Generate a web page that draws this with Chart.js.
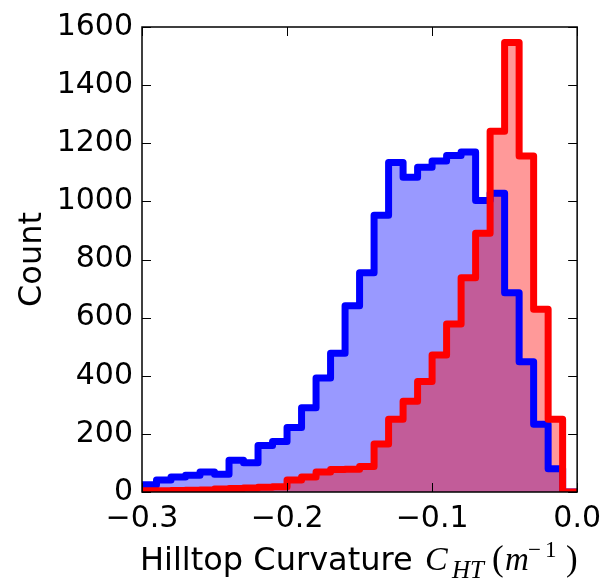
<!DOCTYPE html>
<html>
<head>
<meta charset="utf-8">
<script src="https://cdn.jsdelivr.net/npm/chart.js@4/dist/chart.umd.min.js"></script>
<style>
html,body{margin:0;padding:0;background:#ffffff;}
#wrap{width:610px;height:584px;}
</style>
</head>
<body>
<div id="wrap"><canvas id="c" width="610" height="584"></canvas></div>
<script>
// ---- data ----
const binEdges = [-0.30,-0.29,-0.28,-0.27,-0.26,-0.25,-0.24,-0.23,-0.22,-0.21,
                  -0.20,-0.19,-0.18,-0.17,-0.16,-0.15,-0.14,-0.13,-0.12,-0.11,
                  -0.10,-0.09,-0.08,-0.07,-0.06,-0.05,-0.04,-0.03,-0.02,-0.01,0.00];
const blueCounts = [25,41,52,58,69,61,109,101,160,174,
                    222,290,392,477,641,754,952,1134,1083,1117,
                    1139,1158,1170,1003,1028,686,448,233,80,0];
const redCounts  = [4,4,5,6,7,10,12,14,16,18,
                    41,52,69,77,78,88,165,250,312,380,
                    471,578,737,890,1241,1547,1156,629,250,0];
const xTickValues = [-0.3,-0.2,-0.1,0.0];
const xTickLabels = ['\u22120.3','\u22120.2','\u22120.1','0.0'];
const yTickValues = [0,200,400,600,800,1000,1200,1400,1600];
const yTickLabels = ['0','200','400','600','800','1000','1200','1400','1600'];
const xTitleText = 'Hilltop Curvature';
const yTitleText = 'Count';

function stepPoints(counts){
  const pts = [{x: binEdges[0], y: 0}];
  counts.forEach((c,i)=>pts.push({x: binEdges[i], y: c}));
  pts.push({x: binEdges[binEdges.length-1], y: 0});
  return pts;
}

const framePlugin = {
  id: 'frame',
  afterDraw(chart){
    const {ctx, chartArea: a, scales: {x, y}} = chart;
    ctx.save();
    // inward ticks on all four sides
    ctx.strokeStyle = '#000';
    ctx.lineWidth = 1;
    const L = 9;
    xTickValues.forEach(v=>{
      const px = Math.round(x.getPixelForValue(v)) + 0.5;
      ctx.beginPath();
      ctx.moveTo(px, a.bottom); ctx.lineTo(px, a.bottom - L);
      ctx.moveTo(px, a.top); ctx.lineTo(px, a.top + L);
      ctx.stroke();
    });
    yTickValues.forEach(v=>{
      const py = Math.round(y.getPixelForValue(v)) + 0.5;
      ctx.beginPath();
      ctx.moveTo(a.left, py); ctx.lineTo(a.left + L, py);
      ctx.moveTo(a.right, py); ctx.lineTo(a.right - L, py);
      ctx.stroke();
    });
    // frame
    ctx.lineWidth = 1.5;
    ctx.strokeRect(a.left, a.top, a.right - a.left, a.bottom - a.top);

    // y title
    ctx.fillStyle = '#000';
    ctx.font = '32px "DejaVu Sans"';
    ctx.textAlign = 'center';
    ctx.textBaseline = 'alphabetic';
    ctx.save();
    ctx.translate(41, (a.top + a.bottom) / 2);
    ctx.rotate(-Math.PI / 2);
    ctx.fillText(yTitleText, 0, 0);
    ctx.restore();

    // x title with math part
    ctx.textAlign = 'left';
    const base = 570;
    ctx.font = '32px "DejaVu Sans"';
    ctx.fillText(xTitleText, 140, base);
    ctx.font = 'italic 34px "Liberation Serif"';
    ctx.fillText('C', 425, base);
    ctx.font = 'italic 25px "Liberation Serif"';
    ctx.fillText('HT', 452, base + 8);
    ctx.font = '35px "Liberation Serif"';
    ctx.fillText('(', 492, base);
    ctx.font = 'italic 33px "Liberation Serif"';
    ctx.fillText('m', 505, base);
    ctx.font = '23px "Liberation Serif"';
    ctx.fillText('\u2212', 528, base - 13);
    ctx.fillText('1', 545, base - 13);
    ctx.font = '35px "Liberation Serif"';
    ctx.fillText(')', 566, base);
    ctx.restore();
  }
};

new Chart(document.getElementById('c'), {
  type: 'line',
  data: {
    datasets: [
      {
        label: 'red',
        data: stepPoints(redCounts),
        stepped: 'before',
        borderColor: '#ff0000',
        backgroundColor: 'rgba(255,0,0,0.4)',
        fill: 'origin',
        borderWidth: 7,
        borderJoinStyle: 'round',
        pointRadius: 0,
        order: 0,
        clip: 0
      },
      {
        label: 'blue',
        data: stepPoints(blueCounts),
        stepped: 'before',
        borderColor: '#0000ff',
        backgroundColor: 'rgba(0,0,255,0.4)',
        fill: 'origin',
        borderWidth: 7,
        borderJoinStyle: 'round',
        pointRadius: 0,
        order: 1,
        clip: 0
      }
    ]
  },
  options: {
    responsive: false,
    animation: false,
    devicePixelRatio: 1,
    layout: {padding: {left: 0, top: 21, right: 32, bottom: 0}},
    plugins: {
      legend: {display: false},
      tooltip: {enabled: false},
      filler: {drawTime: 'beforeDatasetsDraw'}
    },
    scales: {
      x: {
        type: 'linear',
        min: -0.3,
        max: 0.0,
        afterBuildTicks: s => { s.ticks = xTickValues.map(v => ({value: v})); },
        afterFit: s => { s.height = 92; },
        ticks: {
          callback: v => xTickLabels[xTickValues.indexOf(v)],
          font: {family: 'DejaVu Sans', size: 30},
          color: '#000',
          padding: 9,
          maxRotation: 0,
          autoSkip: false
        },
        grid: {display: false, drawTicks: false},
        border: {display: false}
      },
      y: {
        type: 'linear',
        min: 0,
        max: 1600,
        afterBuildTicks: s => { s.ticks = yTickValues.map(v => ({value: v})); },
        afterFit: s => { s.width = 142; },
        ticks: {
          callback: v => yTickLabels[yTickValues.indexOf(v)],
          font: {family: 'DejaVu Sans', size: 30},
          color: '#000',
          padding: 9,
          autoSkip: false
        },
        grid: {display: false, drawTicks: false},
        border: {display: false}
      }
    }
  },
  plugins: [framePlugin]
});
</script>
</body>
</html>
